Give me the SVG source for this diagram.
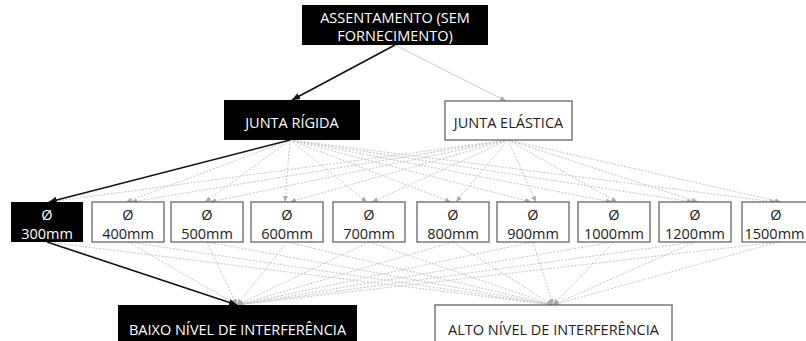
<svg xmlns="http://www.w3.org/2000/svg" width="806" height="341" viewBox="0 0 806 341">
<style>
text{font-family:"Open Sans","Liberation Sans",sans-serif;font-size:14.5px;text-anchor:middle}
.bk rect{fill:#000}
.bk text{fill:#fff}
.wh rect{fill:#fff;stroke:#666;stroke-width:1.3}
.wh text{fill:#222}
.g{fill:none;stroke:#c6c6c6;stroke-width:1;stroke-dasharray:2 1.5;marker-end:url(#ag)}
.gs{fill:none;stroke:#cacaca;stroke-width:1;marker-end:url(#ag)}
.b{fill:none;stroke:#111;stroke-width:1.6;marker-end:url(#ab)}
</style>
<defs>
<marker id="ag" markerUnits="userSpaceOnUse" markerWidth="6" markerHeight="5" refX="6" refY="2.5" orient="auto"><path d="M0,0 L6,2.5 L0,5 z" fill="#aaa"/></marker>
<marker id="ab" markerUnits="userSpaceOnUse" markerWidth="8" markerHeight="7" refX="8" refY="3.5" orient="auto"><path d="M0,0 L8,3.5 L0,7 z" fill="#111"/></marker>
</defs>
<rect width="806" height="341" fill="#fff"/>
<g id="connectors">
<path class="gs" d="M395 45 L506 101"/>
<path class="g" d="M290 140 L126 202"/>
<path class="g" d="M290 140 L205 202"/>
<path class="g" d="M290 140 L285 202"/>
<path class="g" d="M290 140 L367 202"/>
<path class="g" d="M290 140 L451 202"/>
<path class="g" d="M290 140 L531 202"/>
<path class="g" d="M290 140 L612 202"/>
<path class="g" d="M290 140 L693 202"/>
<path class="g" d="M290 140 L776 202"/>
<path class="g" d="M508 140 L50 202"/>
<path class="g" d="M508 140 L131 202"/>
<path class="g" d="M508 140 L210 202"/>
<path class="g" d="M508 140 L290 202"/>
<path class="g" d="M508 140 L372 202"/>
<path class="g" d="M508 140 L456 202"/>
<path class="g" d="M508 140 L536 202"/>
<path class="g" d="M508 140 L617 202"/>
<path class="g" d="M508 140 L698 202"/>
<path class="g" d="M508 140 L781 202"/>
<path class="g" d="M128 242 L237 305"/>
<path class="g" d="M207 242 L237 305"/>
<path class="g" d="M287 242 L237 305"/>
<path class="g" d="M369 242 L237 305"/>
<path class="g" d="M453 242 L237 305"/>
<path class="g" d="M533 242 L237 305"/>
<path class="g" d="M614 242 L237 305"/>
<path class="g" d="M695 242 L237 305"/>
<path class="g" d="M778 242 L237 305"/>
<path class="g" d="M47 242 L553 305"/>
<path class="g" d="M128 242 L553 305"/>
<path class="g" d="M207 242 L553 305"/>
<path class="g" d="M287 242 L553 305"/>
<path class="g" d="M369 242 L553 305"/>
<path class="g" d="M453 242 L553 305"/>
<path class="g" d="M533 242 L553 305"/>
<path class="g" d="M614 242 L553 305"/>
<path class="g" d="M695 242 L553 305"/>
<path class="g" d="M778 242 L553 305"/>
<path class="b" d="M395 45 L292 100"/>
<path class="b" d="M290 140 L49 202"/>
<path class="b" d="M47 242 L237 305"/>
</g>
<g id="n-assentamento" class="bk"><rect x="302" y="5" width="186" height="40"/><text x="395" y="23">ASSENTAMENTO (SEM</text><text x="395" y="41">FORNECIMENTO)</text></g>
<g id="n-rigida" class="bk"><rect x="224" y="100" width="136" height="40"/><text x="292" y="127.5">JUNTA RÍGIDA</text></g>
<g id="n-elastica" class="wh"><rect x="445" y="101" width="127" height="39"/><text x="508.5" y="127.5">JUNTA ELÁSTICA</text></g>
<g id="n-300" class="bk"><rect x="11" y="202" width="72" height="40"/><text x="47" y="220">Ø</text><text x="47" y="239">300mm</text></g>
<g id="n-400" class="wh"><rect x="92" y="202" width="72" height="40"/><text x="128" y="220">Ø</text><text x="128" y="239">400mm</text></g>
<g id="n-500" class="wh"><rect x="171" y="202" width="72" height="40"/><text x="207" y="220">Ø</text><text x="207" y="239">500mm</text></g>
<g id="n-600" class="wh"><rect x="251" y="202" width="72" height="40"/><text x="287" y="220">Ø</text><text x="287" y="239">600mm</text></g>
<g id="n-700" class="wh"><rect x="333" y="202" width="72" height="40"/><text x="369" y="220">Ø</text><text x="369" y="239">700mm</text></g>
<g id="n-800" class="wh"><rect x="417" y="202" width="72" height="40"/><text x="453" y="220">Ø</text><text x="453" y="239">800mm</text></g>
<g id="n-900" class="wh"><rect x="497" y="202" width="72" height="40"/><text x="533" y="220">Ø</text><text x="533" y="239">900mm</text></g>
<g id="n-1000" class="wh"><rect x="578" y="202" width="72" height="40"/><text x="614" y="220">Ø</text><text x="614" y="239">1000mm</text></g>
<g id="n-1200" class="wh"><rect x="659" y="202" width="72" height="40"/><text x="695" y="220">Ø</text><text x="695" y="239">1200mm</text></g>
<g id="n-1500" class="wh"><rect x="742" y="202" width="72" height="40"/><text x="776" y="220">Ø</text><text x="774.5" y="239">1500mm</text></g>
<g id="n-baixo" class="bk"><rect x="118" y="305" width="239" height="45"/><text x="237.5" y="335">BAIXO NÍVEL DE INTERFERÊNCIA</text></g>
<g id="n-alto" class="wh"><rect x="435" y="305" width="237" height="45"/><text x="553.5" y="335">ALTO NÍVEL DE INTERFERÊNCIA</text></g>
</svg>
